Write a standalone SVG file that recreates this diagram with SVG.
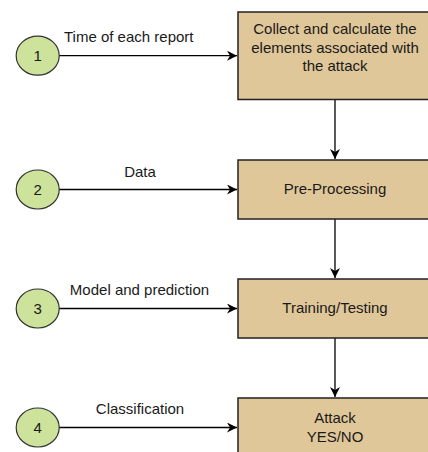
<svg xmlns="http://www.w3.org/2000/svg" width="428" height="452" viewBox="0 0 428 452">
<defs>
<marker id="arr" viewBox="0 0 10 10" refX="10" refY="5" markerWidth="10" markerHeight="10" markerUnits="userSpaceOnUse" orient="auto">
<path d="M0,0 L10,5 L0,10 L3,5 Z" fill="#000"/>
</marker>
</defs>
<style>
.box{fill:#E0C799;stroke:#222;stroke-width:1.5}
.circ{fill:#CDE29A;stroke:#333;stroke-width:1.2}
.t{font-family:"Liberation Sans",Arial,sans-serif;font-size:15px;fill:#1a1a1a}
.c{text-anchor:middle}
.ln{stroke:#000;stroke-width:1.3;fill:none;marker-end:url(#arr)}
</style>
<rect width="428" height="452" fill="#fff"/>
<g id="connectors">
<line class="ln" x1="59" y1="55.7" x2="237" y2="55.7"/>
<line class="ln" x1="59" y1="189.5" x2="237" y2="189.5"/>
<line class="ln" x1="59" y1="308.5" x2="237" y2="308.5"/>
<line class="ln" x1="59" y1="427.5" x2="237" y2="427.5"/>
<line class="ln" x1="335" y1="100" x2="335" y2="159"/>
<line class="ln" x1="335" y1="219" x2="335" y2="278"/>
<line class="ln" x1="335" y1="338" x2="335" y2="397"/>
<text class="t" x="64" y="41.7">Time of each report</text>
<text class="t c" x="140" y="177.3">Data</text>
<text class="t c" x="139.5" y="295">Model and prediction</text>
<text class="t c" x="140" y="414">Classification</text>
</g>
<g id="n1"><ellipse class="circ" cx="37.7" cy="55.7" rx="21.5" ry="19.5"/><text class="t c" x="37.7" y="61">1</text></g>
<g id="n2"><ellipse class="circ" cx="37.7" cy="189.5" rx="21.5" ry="19.5"/><text class="t c" x="37.7" y="194.8">2</text></g>
<g id="n3"><ellipse class="circ" cx="37.7" cy="308.5" rx="21.5" ry="19.5"/><text class="t c" x="37.7" y="313.8">3</text></g>
<g id="n4"><ellipse class="circ" cx="37.7" cy="427.5" rx="21.5" ry="19.5"/><text class="t c" x="37.7" y="432.8">4</text></g>
<g id="b1"><rect class="box" x="238" y="12" width="194" height="87.5"/>
<text class="t c" x="335" y="34.3">Collect and calculate the</text>
<text class="t c" x="335" y="52.5">elements associated with</text>
<text class="t c" x="335" y="71">the attack</text></g>
<g id="b2"><rect class="box" x="238" y="160" width="194" height="59"/><text class="t c" x="335" y="194.3">Pre-Processing</text></g>
<g id="b3"><rect class="box" x="238" y="279" width="194" height="59"/><text class="t c" x="335" y="313.3">Training/Testing</text></g>
<g id="b4"><rect class="box" x="238" y="398" width="194" height="70"/><text class="t c" x="335" y="423.3">Attack</text><text class="t c" x="335" y="442.3">YES/NO</text></g>
</svg>
